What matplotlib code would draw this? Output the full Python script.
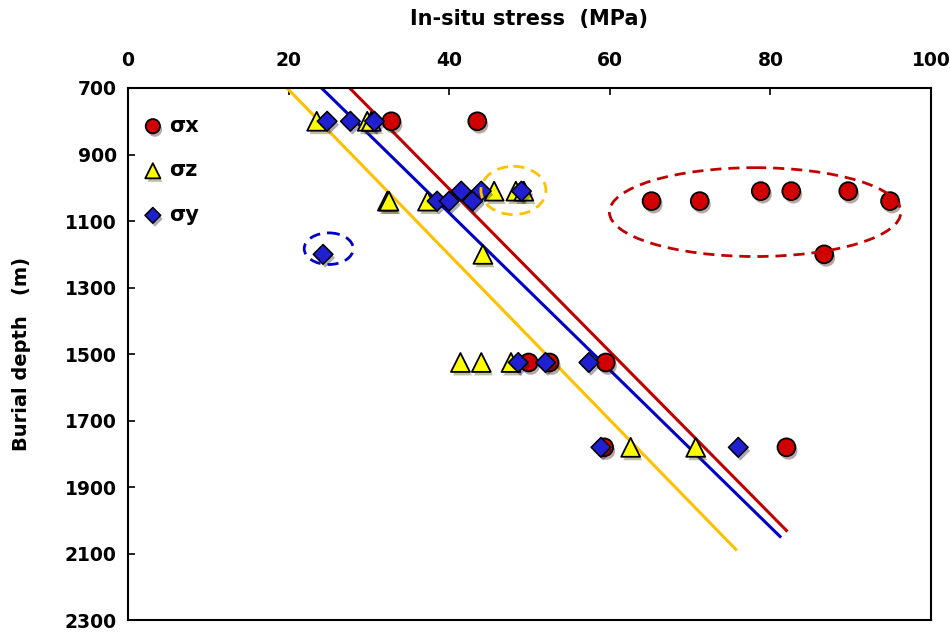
import numpy as np
import matplotlib.pyplot as plt
import matplotlib.patheffects as pe
from matplotlib.patches import Ellipse

# measured points (stress in MPa, burial depth in m)
sx_stress = [32.8, 43.5, 65.2, 71.2, 78.8, 82.6, 89.7, 94.9, 86.7, 49.9, 52.5, 59.5, 59.3, 82.0]
sx_depth = [800, 800, 1040, 1040, 1010, 1010, 1010, 1040, 1200, 1525, 1525, 1525, 1780, 1780]

sz_stress = [23.5, 29.8, 30.3, 32.3, 32.5, 37.3, 45.6, 48.3, 49.3, 44.2, 41.4, 44.0, 47.7, 62.6, 70.7]
sz_depth = [800, 800, 800, 1040, 1040, 1040, 1010, 1010, 1010, 1200, 1525, 1525, 1525, 1780, 1780]

sy_stress = [24.8, 27.7, 30.7, 41.5, 44.0, 49.0, 38.5, 40.0, 42.9, 24.3, 48.6, 52.0, 57.4, 58.9, 76.0]
sy_depth = [800, 800, 800, 1010, 1010, 1010, 1040, 1040, 1040, 1200, 1525, 1525, 1525, 1780, 1780]

# fitted trend lines (end points)
fit_x_stress = [27.6, 82.0]
fit_x_depth = [700, 2030]
fit_y_stress = [24.1, 81.2]
fit_y_depth = [700, 2048]
fit_z_stress = [19.8, 75.7]
fit_z_depth = [700, 2087]

plt.rcParams['font.family'] = 'DejaVu Sans'
plt.rcParams['font.weight'] = 'bold'

fig = plt.figure(figsize=(9.5, 6.33), dpi=100)
ax = fig.add_axes([0.1347, 0.02, 0.8453, 0.841])

ax.plot(fit_x_stress, fit_x_depth, color='#C00000', lw=2.2, zorder=2)
ax.plot(fit_y_stress, fit_y_depth, color='#0000C8', lw=2.2, zorder=2)
ax.plot(fit_z_stress, fit_z_depth, color='#FFC000', lw=2.2, zorder=2)

shadow = [pe.SimplePatchShadow(offset=(1.5, -2.5), alpha=0.35), pe.Normal()]
ax.scatter(sz_stress, sz_depth, s=185, marker='^', c='#FFFF00', edgecolors='black',
           linewidths=1.3, zorder=4, path_effects=shadow, label='σz')
ax.scatter(sx_stress, sx_depth, s=165, marker='o', c='#D00000', edgecolors='black',
           linewidths=1.3, zorder=3, path_effects=shadow, label='σx')
ax.scatter(sy_stress, sy_depth, s=100, marker='D', c='#2020D0', edgecolors='black',
           linewidths=1.1, zorder=5, path_effects=shadow, label='σy')

# highlighted groups
ax.add_patch(Ellipse((78.1, 1073), 36.3, 267, fill=False, ec='#C00000', lw=2, ls=(0, (4, 2.5)), zorder=6))
ax.add_patch(Ellipse((48.0, 1008), 8.1, 145, fill=False, ec='#FFC000', lw=2, ls=(0, (4, 2.5)), zorder=6))
ax.add_patch(Ellipse((25.0, 1183), 6.1, 95, fill=False, ec='#0000C8', lw=2, ls=(0, (4, 2.5)), zorder=6))

ax.set_xlim(0, 100)
ax.set_ylim(2300, 700)
ax.set_xticks(np.arange(0, 101, 20))
ax.set_yticks(np.arange(700, 2301, 200))
ax.xaxis.tick_top()
ax.xaxis.set_label_position('top')
ax.tick_params(direction='in', length=5, width=1.2, labelsize=13.5, pad=8)
ax.tick_params(axis='x', pad=13)
for lab in ax.get_xticklabels() + ax.get_yticklabels():
    lab.set_fontweight('bold')
for sp in ax.spines.values():
    sp.set_linewidth(1.5)

ax.set_xlabel('In-situ stress  (MPa)', fontsize=15, fontweight='bold', labelpad=19)
ax.set_ylabel('Burial depth   (m)', fontsize=14, fontweight='bold', labelpad=24)

handles, labels = ax.get_legend_handles_labels()
order = [1, 0, 2]
ax.legend([handles[i] for i in order], [labels[i] for i in order], loc='upper left',
          frameon=False, handlelength=1.0, handletextpad=0.3, labelspacing=1.18,
          borderaxespad=0.0, borderpad=0.0,
          bbox_to_anchor=(0.018, 0.948), markerscale=0.8,
          prop={'weight': 'bold', 'size': 15})

fig.savefig('out.png', dpi=100)
